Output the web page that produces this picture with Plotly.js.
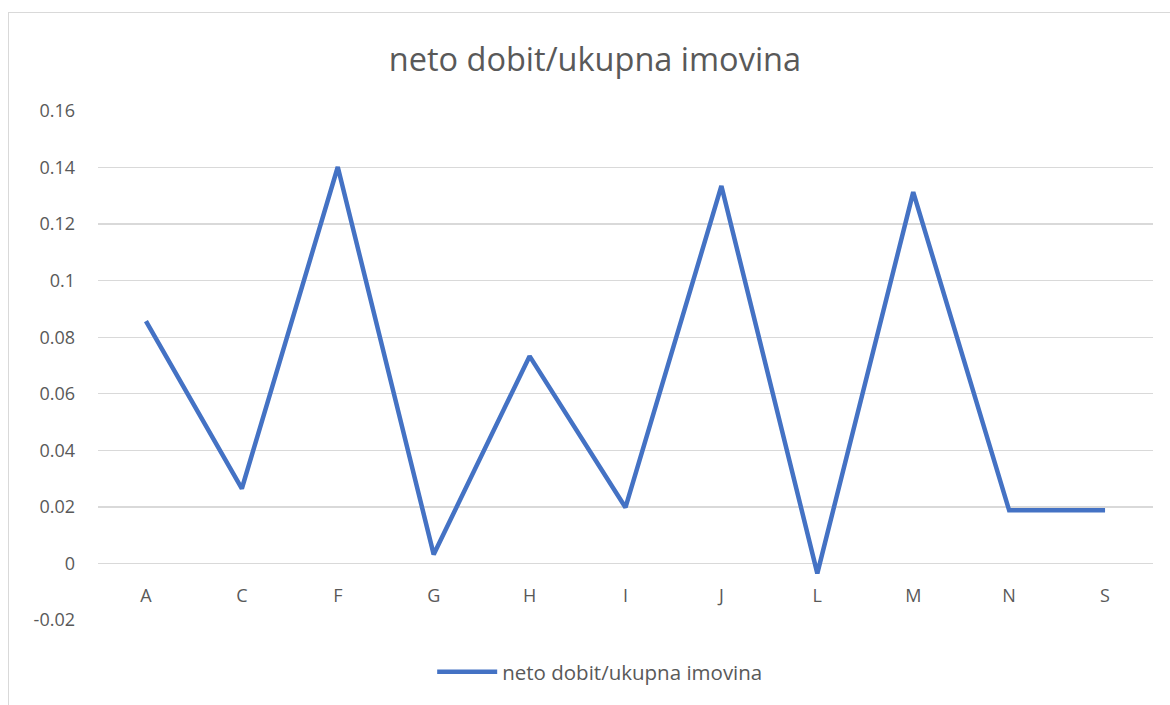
<!DOCTYPE html>
<html>
<head>
<meta charset="utf-8">
<script src="https://cdn.plot.ly/plotly-3.0.1.min.js"></script>
<style>
  html, body { margin: 0; padding: 0; background: #fff; }
  #wrap { position: relative; width: 1170px; height: 705px; overflow: hidden; }
  #frame { position: absolute; left: 8px; top: 12px; width: 1200px; height: 760px;
           border: 1px solid #d9d9d9; box-sizing: border-box; pointer-events: none; }
  #chart { position: absolute; left: 0; top: 0; width: 1170px; height: 705px; }
</style>
</head>
<body>
<div id="wrap">
  <div id="chart"></div>
  <div id="frame"></div>
</div>
<script>
const categories = ["A", "C", "F", "G", "H", "I", "J", "L", "M", "N", "S"];
const seriesName = "neto dobit/ukupna imovina";
const values = [0.0857, 0.0265, 0.1402, 0.0032, 0.0733, 0.0198, 0.1335, -0.0035, 0.1313, 0.0188, 0.0188];
const yTicks = [-0.02, 0, 0.02, 0.04, 0.06, 0.08, 0.1, 0.12, 0.14, 0.16];
const yTickText = ["-0.02", "0", "0.02", "0.04", "0.06", "0.08", "0.1", "0.12", "0.14", "0.16"];
const yRange = [-0.02, 0.16];

const font = "Open Sans, Noto Sans, sans-serif";
const trace = {
  x: categories, y: values, type: "scatter", mode: "lines", name: seriesName,
  line: { color: "#4472C4", width: 4.5, shape: "linear" },
  hoverinfo: "x+y"
};
const layout = {
  width: 1170, height: 705,
  paper_bgcolor: "rgba(0,0,0,0)", plot_bgcolor: "rgba(0,0,0,0)",
  margin: { l: 98, r: 17, t: 111, b: 85, autoexpand: false },
  title: { text: "neto dobit/ukupna imovina", x: 0.5085, xanchor: "center", y: 0.915, yanchor: "middle",
           font: { family: font, size: 32.5, color: "#595959" } },
  showlegend: true,
  legend: { orientation: "h", x: 0.476, xanchor: "center", xref: "paper", yref: "container",
            y: 1 - 672 / 705, yanchor: "middle",
            font: { family: font, size: 20.5, color: "#595959" }, itemwidth: 60 },
  xaxis: {
    type: "category", range: [-0.5, 10.5], showgrid: false, zeroline: false, showline: false,
    ticks: "", tickfont: { family: font, size: 18, color: "#595959" },
    anchor: "free", position: (0 - yRange[0]) / (yRange[1] - yRange[0]), ticklabelstandoff: 20
  },
  yaxis: {
    range: yRange, tickmode: "array", tickvals: yTicks, ticktext: yTickText,
    showgrid: true, gridcolor: "#d9d9d9", gridwidth: 1.3, zeroline: false, showline: false,
    ticks: "", tickfont: { family: font, size: 18, color: "#595959" }, ticklabelstandoff: 22
  }
};
Plotly.newPlot("chart", [trace], layout, { displayModeBar: false, staticPlot: true });
</script>
</body>
</html>
